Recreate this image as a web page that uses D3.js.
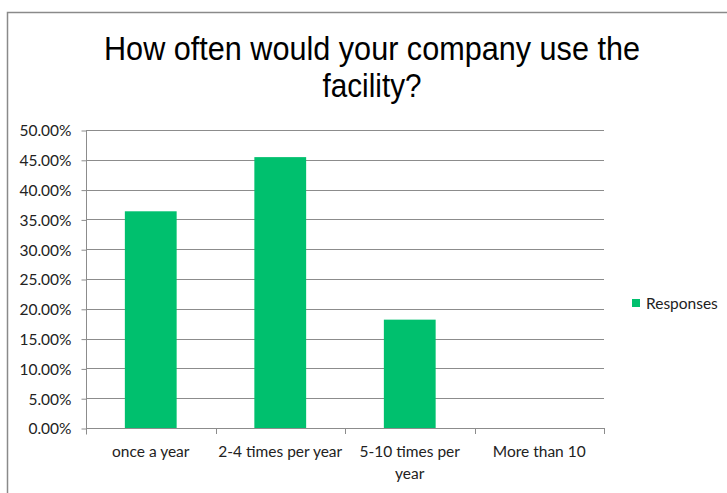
<!DOCTYPE html>
<html>
<head>
<meta charset="utf-8">
<script src="https://cdn.jsdelivr.net/npm/d3@7"></script>
<style>
  body { margin: 0; background: #fff; }
  svg { display: block; }
  .tick text { font-family: Lato, "Open Sans", sans-serif; fill: #222; }
</style>
</head>
<body>
<svg id="chart"></svg>
<script>
const width = 727;
const height = 493;

const categories = ["once a year", "2-4 times per year", "5-10 times per year", "More than 10"];
const responses = [0.3636, 0.4545, 0.1818, 0];
const yTicks = [0, 0.05, 0.10, 0.15, 0.20, 0.25, 0.30, 0.35, 0.40, 0.45, 0.50];
const titleLines = ["How often would your company use the", "facility?"];
const seriesName = "Responses";

const plot = { left: 86, right: 604, top: 130, bottom: 428 };
const barColor = "#00c06e";
const gridColor = "#8c8c8c";

const svg = d3.select("#chart")
              .attr("width", width)
              .attr("height", height);

svg.append("rect")
   .attr("width", width)
   .attr("height", height)
   .attr("fill", "#fff");

// outer chart border (only top and left are visible in the frame)
svg.append("rect")
   .attr("x", 7.5)
   .attr("y", 12.5)
   .attr("width", width + 20)
   .attr("height", height + 20)
   .attr("fill", "none")
   .attr("stroke", "#8a8a8a")
   .attr("stroke-width", 1.5);

// title
svg.append("g")
   .selectAll("text")
   .data(titleLines)
   .enter()
   .append("text")
   .attr("x", 372)
   .attr("y", (d, i) => 59.5 + i * 37.5)
   .attr("text-anchor", "middle")
   .attr("font-family", "Liberation Sans, Arial, sans-serif")
   .attr("font-size", 33)
   .attr("fill", "#000")
   .attr("textLength", (d, i) => i === 0 ? 536 : 99)
   .attr("lengthAdjust", "spacingAndGlyphs")
   .text(d => d);

const xScale = d3.scaleBand()
                 .domain(categories)
                 .range([plot.left, plot.right]);

const yScale = d3.scaleLinear()
                 .domain([0, 0.5])
                 .range([plot.bottom, plot.top]);

// gridlines
svg.append("g")
   .selectAll("line")
   .data(yTicks.filter(d => d > 0))
   .enter()
   .append("line")
   .attr("x1", plot.left)
   .attr("x2", plot.right)
   .attr("y1", d => Math.round(yScale(d)) + 0.5)
   .attr("y2", d => Math.round(yScale(d)) + 0.5)
   .attr("stroke", gridColor)
   .attr("stroke-width", 1);

// bars
const barWidth = xScale.bandwidth() * 0.4;
svg.selectAll(".bar")
   .data(responses)
   .enter()
   .append("rect")
   .attr("class", "bar")
   .attr("x", (d, i) => xScale(categories[i]) + (xScale.bandwidth() - barWidth) / 2)
   .attr("y", d => yScale(d))
   .attr("width", barWidth)
   .attr("height", d => plot.bottom - yScale(d))
   .attr("fill", barColor);

// y axis
const yAxis = d3.axisLeft(yScale)
                .tickValues(yTicks)
                .tickFormat(d3.format(".2%"))
                .tickSize(5)
                .tickPadding(10);

const yAxisG = svg.append("g")
   .attr("id", "y-axis")
   .attr("transform", `translate(${plot.left + 0.5}, 0.5)`)
   .call(yAxis);
yAxisG.select(".domain").attr("stroke", gridColor).attr("d", `M0,${plot.top}V${plot.bottom + 6}`);
yAxisG.selectAll(".tick line").attr("stroke", gridColor);
yAxisG.selectAll(".tick text").attr("font-size", 15.5).attr("dy", "0.35em");

// x axis
const xAxis = d3.axisBottom(xScale).tickSize(0).tickPadding(17);
const xAxisG = svg.append("g")
   .attr("id", "x-axis")
   .attr("transform", `translate(0, ${plot.bottom + 0.5})`)
   .call(xAxis);
xAxisG.select(".domain").attr("stroke", gridColor).attr("d", `M${plot.left},0H${plot.right}`);
xAxisG.selectAll(".tick text").attr("font-size", 15.5).call(wrap, xScale.bandwidth() - 2);

// boundary ticks between categories
svg.append("g")
   .selectAll("line")
   .data(categories.map(c => xScale(c)).concat([xScale.range()[1]]))
   .enter()
   .append("line")
   .attr("x1", d => Math.round(d) + 0.5)
   .attr("x2", d => Math.round(d) + 0.5)
   .attr("y1", plot.bottom)
   .attr("y2", plot.bottom + 6)
   .attr("stroke", gridColor);

// legend
const legend = svg.append("g").attr("transform", "translate(632, 299)");
legend.append("rect")
      .attr("width", 8)
      .attr("height", 8)
      .attr("fill", barColor);
legend.append("text")
      .attr("x", 14)
      .attr("y", 10)
      .attr("font-family", "Lato, 'Open Sans', sans-serif")
      .attr("font-size", 15.5)
      .attr("fill", "#222")
      .text(seriesName);

function wrap(texts, w) {
  texts.each(function() {
    const text = d3.select(this);
    const words = text.text().split(/\s+/);
    const y = text.attr("y");
    const dy = parseFloat(text.attr("dy")) || 0;
    let line = [];
    let lineNo = 0;
    let tspan = text.text(null).append("tspan").attr("x", 0).attr("y", y).attr("dy", dy + "em");
    words.forEach(word => {
      line.push(word);
      tspan.text(line.join(" "));
      if (tspan.node().getComputedTextLength() > w && line.length > 1) {
        line.pop();
        tspan.text(line.join(" "));
        line = [word];
        tspan = text.append("tspan").attr("x", 0).attr("y", y)
                    .attr("dy", (++lineNo * 1.45 + dy) + "em").text(word);
      }
    });
  });
}
</script>
</body>
</html>
